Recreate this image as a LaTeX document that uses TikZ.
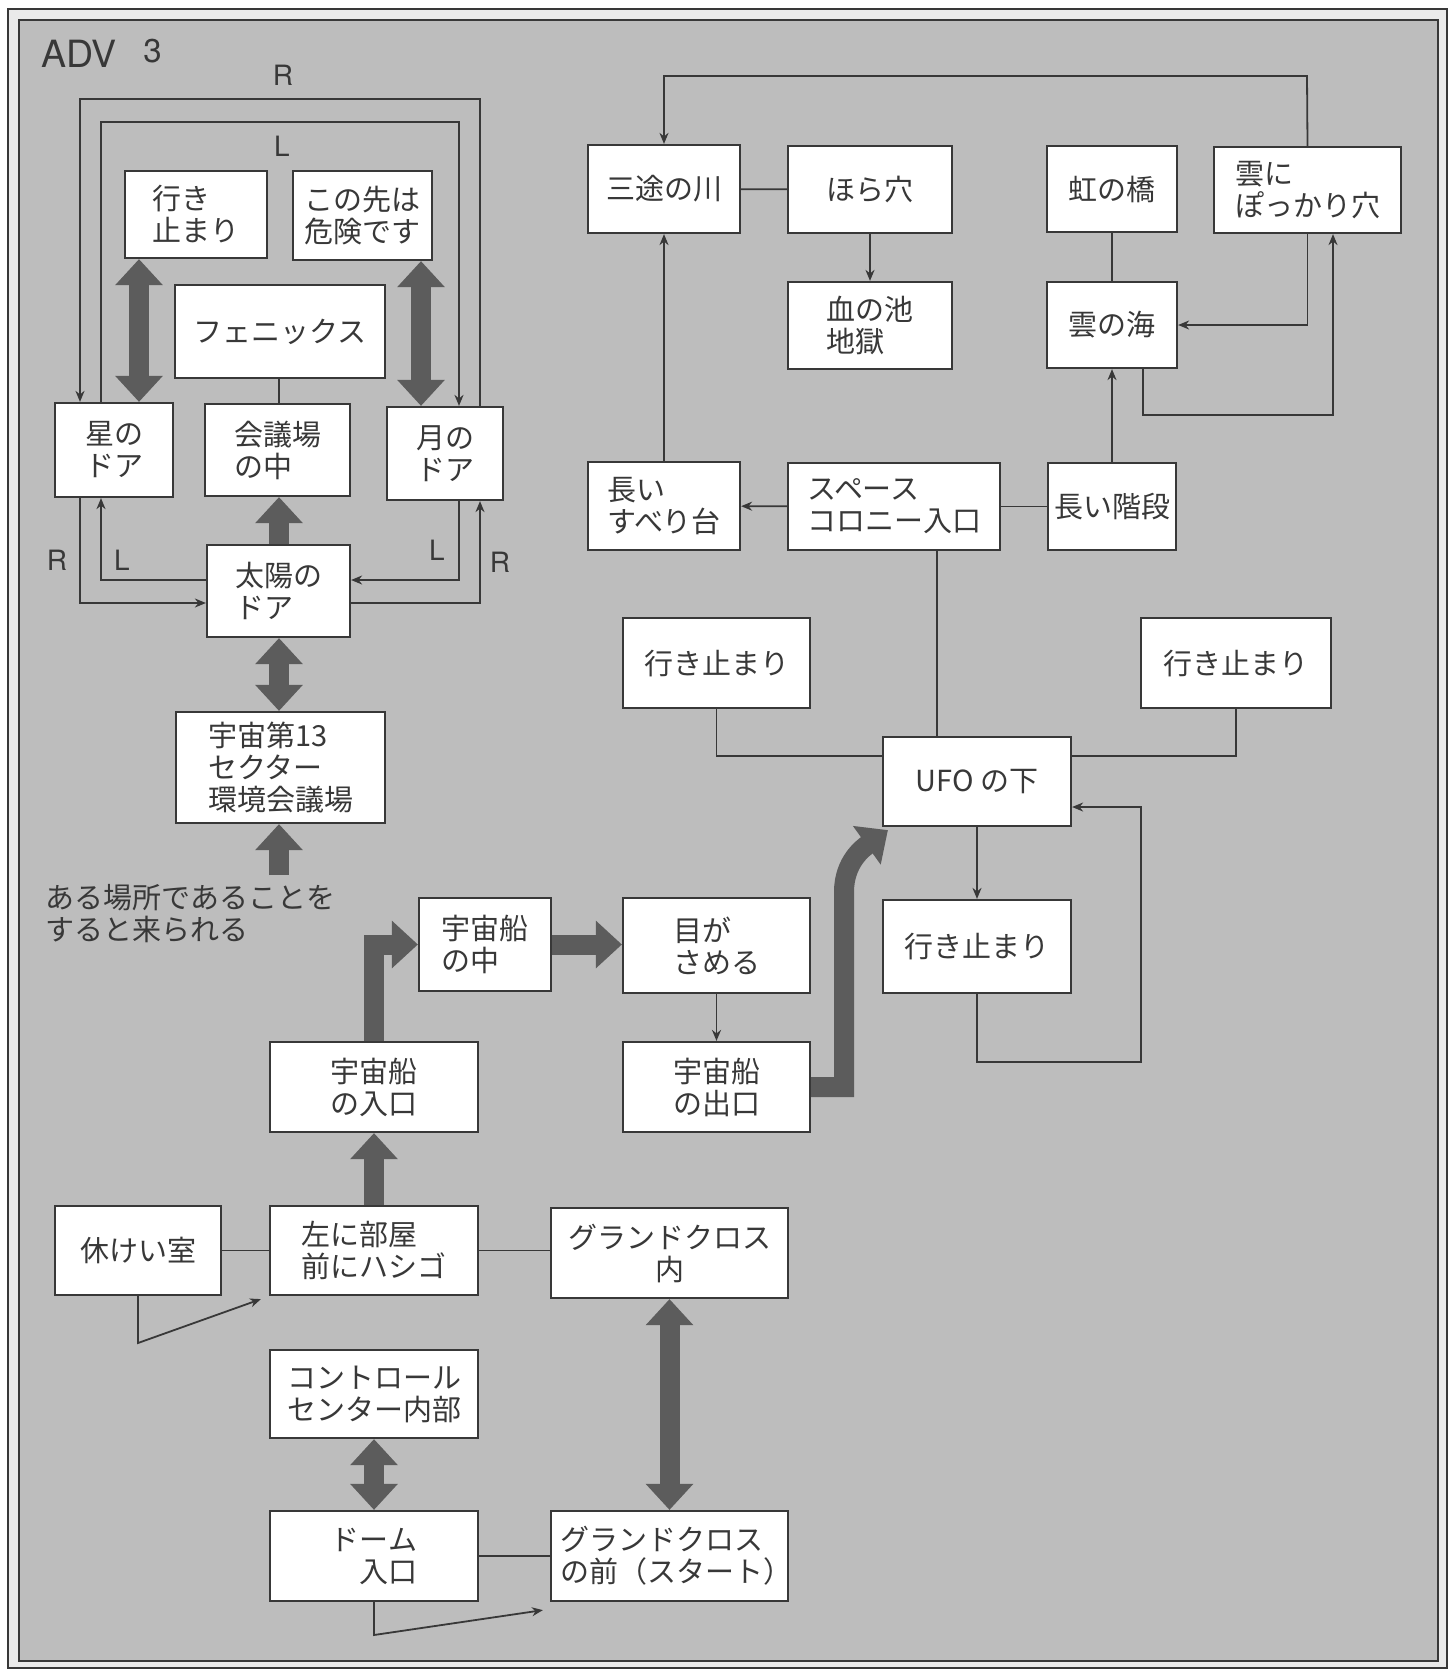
\documentclass[tikz,border=0pt]{standalone}
\usepackage{fontspec}
\setmainfont{Noto Sans CJK JP}
\newfontfamily\latinf{TeX Gyre Heros}
\usetikzlibrary{arrows.meta,calc}
\definecolor{bg}{HTML}{BDBDBD}
\definecolor{margin}{HTML}{EAEAEA}
\definecolor{ink}{HTML}{383838}
\definecolor{arr}{HTML}{5C5C5C}
\newcommand\bx[7][]{%
  \pgfmathsetmacro\bxcx{(#3+#5)/2}%
  \pgfmathsetmacro\bxcy{(#4+#6)/2}%
  \pgfmathsetmacro\bxw{(#5-#3)*0.5}%
  \pgfmathsetmacro\bxh{(#6-#4)*0.5}%
  \node[box,minimum width=\bxw pt,minimum height=\bxh pt,#1] (#2) at (\bxcx,\bxcy) {#7};}
\begin{document}
\begin{tikzpicture}[x=0.5pt,y=-0.5pt,
  box/.style={draw=ink, fill=white, line width=1.1pt, inner sep=0pt, text=ink,
    font=\fontsize{14.5pt}{16pt}\selectfont, align=left},
  conn/.style={draw=ink, line width=0.9pt},
  tip/.style={conn, -{Stealth[length=5.5pt,width=4.5pt]}},
  big/.style={draw=arr, line width=10pt, -{Triangle[length=13pt,width=23pt]}},
  bigb/.style={draw=arr, line width=10pt, {Triangle[length=13pt,width=23pt]}-{Triangle[length=13pt,width=23pt]}},
  lbl/.style={text=ink, font=\latinf\fontsize{14pt}{16pt}\selectfont, inner sep=0pt}
]
\fill[white] (0,0) rectangle (1452,1670);
\useasboundingbox (0,0) rectangle (1452,1670);
\draw[ink, line width=0.9pt, fill=margin] (8,9) rectangle (1447,1668);
\draw[ink, line width=1.3pt, fill=bg] (19,20) rectangle (1438,1661);

% title
\node[lbl, anchor=base west, font=\latinf\fontsize{18.75pt}{20pt}\selectfont] (adv) at (41,67) {ADV};
\node[lbl, anchor=base west, font=\latinf\fontsize{16.5pt}{18pt}\selectfont] (three) at (143,62) {3};

% ---------- top-left group ----------
\bx{dead1}{125}{171}{267}{258}{行き\\止まり}
\bx{danger}{293}{171}{432}{260}{この先は\\危険です}
\bx{phoenix}{175}{285}{385}{378}{フェニックス}
\bx{star}{55}{403}{173}{497}{星の\\ドア}
\bx{kaigi}{205}{404}{350}{496}{会議場\\の中}
\bx{moon}{387}{407}{503}{500}{月の\\ドア}
\bx{sun}{207}{545}{350}{637}{太陽の\\ドア}
\bx{sector}{176}{712}{385}{823}{宇宙第13\\セクター\\環境会議場}
\node[text=ink, font=\fontsize{14.5pt}{16pt}\selectfont, align=left, anchor=west, inner sep=0pt] (note) at (45,914) {ある場所であることを\\すると来られる};

\coordinate (xRr) at (480,0);
\coordinate (xLr) at (459,0);
\coordinate (xRl) at (80,0);
\coordinate (xLl) at (101,0);
\coordinate (xA1) at (139,0);
\coordinate (xA2) at (421,0);
\coordinate (xC) at (279,0);
\coordinate (yR) at (0,603);
\coordinate (yL) at (0,580);
\coordinate (noteTop) at (279,875);

\draw[tip] (xRr |- moon.north) -- (480,99) -- (80,99) -- (xRl |- star.north);
\draw[tip] (xLl |- star.north) -- (101,122) -- (459,122) -- (xLr |- moon.north);
\draw[tip] (xRl |- star.south) |- (sun.west |- yR);
\draw[tip] (sun.west |- yL) -| (xLl |- star.south);
\draw[tip] (xLr |- moon.south) |- (sun.east |- yL);
\draw[tip] (sun.east |- yR) -| (xRr |- moon.south);

\node[lbl] (lR1) at (283,75) {R};
\node[lbl] (lL1) at (282,146) {L};
\node[lbl] (lR2) at (57,560) {R};
\node[lbl] (lL2) at (122,560) {L};
\node[lbl] (lL3) at (437,550) {L};
\node[lbl] (lR3) at (500,562) {R};

\draw[conn] (xC |- phoenix.south) -- (xC |- kaigi.north);
\draw[bigb] (xA1 |- dead1.south) -- (xA1 |- star.north);
\draw[bigb] (xA2 |- danger.south) -- (xA2 |- moon.north);
\draw[big] (xC |- sun.north) -- (xC |- kaigi.south);
\draw[bigb] (xC |- sun.south) -- (xC |- sector.north);
\draw[big] (noteTop) -- (xC |- sector.south);

% ---------- top-right group ----------
\bx{sanzu}{588}{145}{740}{233}{三途の川}
\bx{hora}{788}{146}{952}{233}{ほら穴}
\bx{chinoike}{788}{282}{952}{369}{血の池\\地獄}
\bx{suberi}{588}{462}{740}{550}{長い\\すべり台}
\bx{space}{788}{463}{1000}{550}{スペース\\コロニー入口}
\bx{niji}{1047}{146}{1177}{232}{虹の橋}
\bx{kumoni}{1214}{147}{1401}{233}{雲に\\ぽっかり穴}
\bx{umi}{1047}{282}{1177}{368}{雲の海}
\bx{kaidan}{1048}{463}{1176}{550}{長い階段}

\coordinate (xK2) at (1333,0);
\coordinate (xU) at (1143,0);
\coordinate (xS) at (937,0);

\draw[conn] (sanzu) -- (hora);
\draw[tip] (hora) -- (chinoike);
\draw[tip] (suberi) -- (sanzu);
\draw[tip] (space) -- (suberi);
\draw[conn] (space) -- (kaidan);
\draw[tip] (kaidan) -- (umi);
\draw[conn] (niji) -- (umi);
\draw[tip] (kumoni.south) |- (umi.east);
\draw[tip] (xU |- umi.south) -- (1143,415) -| (xK2 |- kumoni.south);
\draw[tip] (kumoni.north) -- (1307,76) -| (sanzu.north);

% ---------- middle ----------
\bx{dead2}{623}{618}{810}{708}{行き止まり}
\bx{dead3}{1141}{618}{1331}{708}{行き止まり}
\bx{ufo}{883}{737}{1071}{826}{UFO の下}
\bx{dead4}{883}{900}{1071}{993}{行き止まり}
\bx{me}{623}{898}{810}{993}{目が\\さめる}
\bx{deguchi}{623}{1042}{810}{1132}{宇宙船\\の出口}
\bx{naka}{419}{898}{551}{991}{宇宙船\\の中}
\bx{iriguchi}{270}{1042}{478}{1132}{宇宙船\\の入口}

\draw[conn] (xS |- space.south) -- (xS |- ufo.north);

\coordinate (yU) at (0,756);
\coordinate (yLoop) at (0,807);
\coordinate (ufoTip) at ([xshift=3pt,yshift=-1.5pt]ufo.south west);

\draw[conn] (dead2.south) |- (ufo.west |- yU);
\draw[conn] (dead3.south) |- (ufo.east |- yU);
\draw[tip] (ufo.south) -- (dead4.north);
\draw[tip] (dead4.south) |- (1141,1062) -- (1141,807) -- (ufo.east |- yLoop);
\draw[tip] (me) -- (deguchi);
\draw[big] (deguchi.east) -- (844,1087) -- (844,892) .. controls (844,862) and (863,848) .. (ufoTip);
\draw[big] (naka.east) -- (naka.east -| me.west);
\draw[big] (iriguchi.north) |- (naka.west);

% ---------- bottom ----------
\bx{kyukei}{55}{1206}{221}{1295}{休けい室}
\bx{hidari}{270}{1206}{478}{1295}{左に部屋\\前にハシゴ}
\bx[align=center]{gnai}{551}{1208}{788}{1298}{グランドクロス\\内}
\bx{control}{270}{1350}{478}{1438}{コントロール\\センター内部}
\bx[align=right]{dome}{270}{1511}{478}{1601}{ドーム\\入口}
\bx{gmae}{551}{1511}{788}{1601}{グランドクロス\\の前（スタート{\addfontfeatures{RawFeature=+halt}）}}

\coordinate (kTip) at ([xshift=-4pt,yshift=-1.5pt]hidari.south west);
\coordinate (dTip) at ([xshift=-3.5pt,yshift=-4pt]gmae.south west);

\draw[big] (hidari.north) -- (iriguchi.south);
\draw[conn] (kyukei) -- (hidari);
\draw[conn] (hidari.east) -- (hidari.east -| gnai.west);
\draw[tip] (kyukei.south) -- (138,1343) -- (kTip);
\draw[bigb] (gnai.south) -- (gnai.south |- gmae.north);
\draw[bigb] (control.south) -- (dome.north);
\draw[conn] (dome) -- (gmae);
\draw[tip] (dome.south) -- (374,1635) -- (dTip);
\end{tikzpicture}
\end{document}
